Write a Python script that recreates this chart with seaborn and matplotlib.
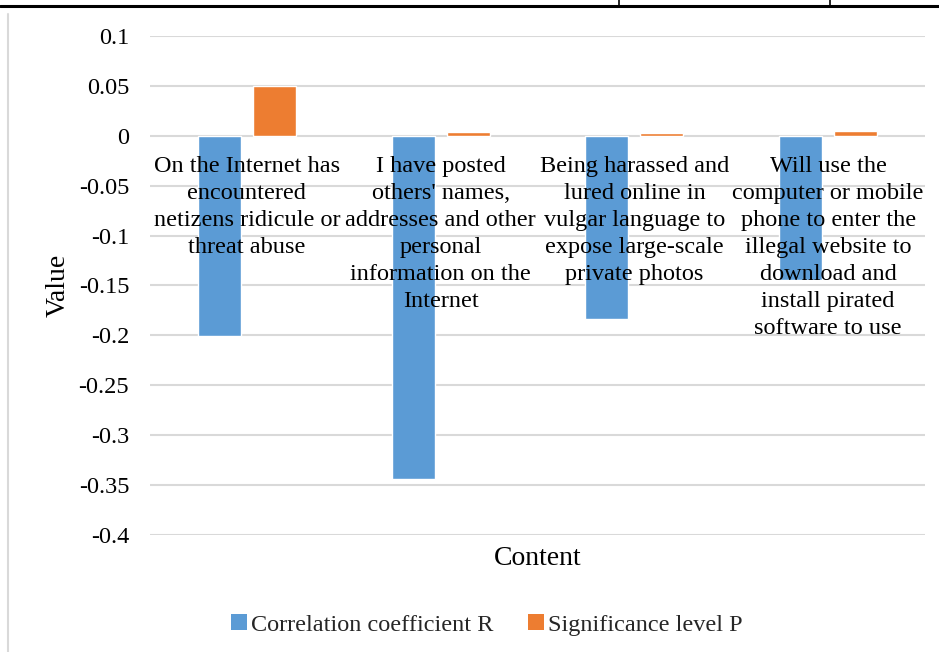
import matplotlib
matplotlib.use("Agg")
import matplotlib.pyplot as plt
import seaborn as sns
import pandas as pd
from matplotlib.lines import Line2D
from matplotlib.patches import Patch

categories = [
    "On the Internet has\nencountered\nnetizens ridicule or\nthreat abuse",
    "I have posted\nothers' names,\naddresses and other\npersonal\ninformation on the\nInternet",
    "Being harassed and\nlured online in\nvulgar language to\nexpose large-scale\nprivate photos",
    "Will use the\ncomputer or mobile\nphone to enter the\nillegal website to\ndownload and\ninstall pirated\nsoftware to use",
]
series_names = ["Correlation coefficient R", "Significance level P"]
r_values = [-0.201, -0.344, -0.184, -0.144]
p_values = [0.050, 0.004, 0.003, 0.005]
y_ticks = [0.1, 0.05, 0, -0.05, -0.1, -0.15, -0.2, -0.25, -0.3, -0.35, -0.4]
y_tick_labels = ["0.1", "0.05", "0", "-0.05", "-0.1", "-0.15", "-0.2", "-0.25", "-0.3", "-0.35", "-0.4"]

colors = ["#5B9BD5", "#ED7D31"]

sns.set_theme(style="white")
plt.rcParams["font.family"] = ["Liberation Serif", "DejaVu Serif"]

df = pd.DataFrame({
    "Content": list(range(len(categories))) * 2,
    "Value": r_values + p_values,
    "Series": [series_names[0]] * len(categories) + [series_names[1]] * len(categories),
})

fig = plt.figure(figsize=(9.39, 6.52), dpi=100)
ax = fig.add_axes([150 / 939, 1 - 535 / 652, 775 / 939, (535 - 36) / 652])

sns.barplot(data=df, x="Content", y="Value", hue="Series", palette=colors,
            width=0.568, gap=0.22, ax=ax, legend=False, saturation=1)

ax.set_ylim(-0.4, 0.1)
ax.set_xlim(-0.5, len(categories) - 0.5)
ax.set_yticks(y_ticks)
ax.set_yticklabels(y_tick_labels, fontsize=17.5, color="black")
ax.tick_params(axis="y", length=0, pad=15)
ax.set_xticks([])
ax.yaxis.grid(True, color="#D9D9D9", linewidth=1.5)
ax.set_axisbelow(True)
for s in ax.spines.values():
    s.set_visible(False)

for i, lab in enumerate(categories):
    ax.text(i, -0.0205, lab, ha="center", va="top", fontsize=17.5,
            color="black", linespacing=1.37)

ax.set_ylabel("Value", fontsize=20, color="black", labelpad=6)
ax.set_xlabel("Content", fontsize=20, color="black", labelpad=8)

handles = [Patch(facecolor=c, edgecolor="none") for c in colors]
fig.legend(handles, series_names, loc="center", bbox_to_anchor=(487 / 939, 1 - 625 / 652),
           ncol=2, frameon=False, fontsize=17.5, handlelength=0.65, handleheight=0.65,
           handletextpad=0.15, columnspacing=1.45)

# document table remnants
fig.add_artist(Line2D([0, 1], [1 - 6 / 652, 1 - 6 / 652], color="black", linewidth=2.2,
                      transform=fig.transFigure))
for xp in [619, 830]:
    fig.add_artist(Line2D([xp / 939, xp / 939], [1 - 6 / 652, 1.0], color="black",
                          linewidth=1.2, transform=fig.transFigure))
fig.add_artist(Line2D([8 / 939, 8 / 939], [0, 1 - 14 / 652], color="#D9D9D9",
                      linewidth=1.5, transform=fig.transFigure))

fig.savefig("out.png", dpi=100)
